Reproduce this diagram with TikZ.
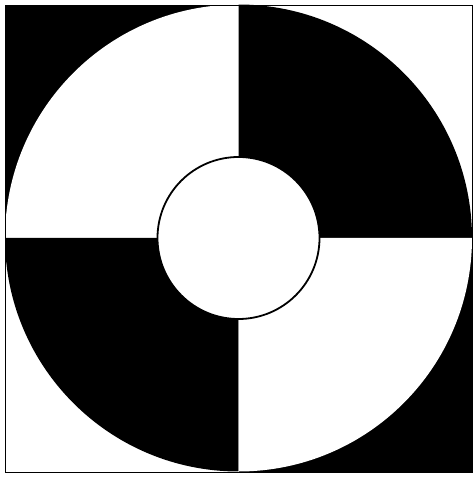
\documentclass[tikz,border=0pt]{standalone}
\usepackage{tikz}

\begin{document}
\begin{tikzpicture}[
    x=1pt, y=1pt,
    darkpart/.style={fill=black},
    lightpart/.style={fill=white},
    rim/.style={draw=black, line width=1.8pt},
  ]
    \useasboundingbox (0,0) rectangle (475,480);
    \coordinate (ctr) at (238.5,242);

    % square quadrants
    \fill[darkpart] (5,475) rectangle (ctr);
    \fill[darkpart] (472,8) rectangle (ctr);

    % quarters of the large disc
    \fill[darkpart] (ctr) -- ++(233.5pt,0) arc[start angle=0, end angle=90, radius=233.5pt] -- cycle;
    \fill[lightpart] (ctr) -- ++(0,233.5pt) arc[start angle=90, end angle=180, radius=233.5pt] -- cycle;
    \fill[darkpart] (ctr) -- ++(-233.5pt,0) arc[start angle=180, end angle=270, radius=233.5pt] -- cycle;
    \fill[lightpart] (ctr) -- ++(0,-233.5pt) arc[start angle=270, end angle=360, radius=233.5pt] -- cycle;

    % inner disc
    \filldraw[lightpart, rim] (ctr) circle[radius=81pt];

    % frame
    \draw[black, line width=0.7pt] (5,8) rectangle (472,475);
  \end{tikzpicture}
\end{document}
